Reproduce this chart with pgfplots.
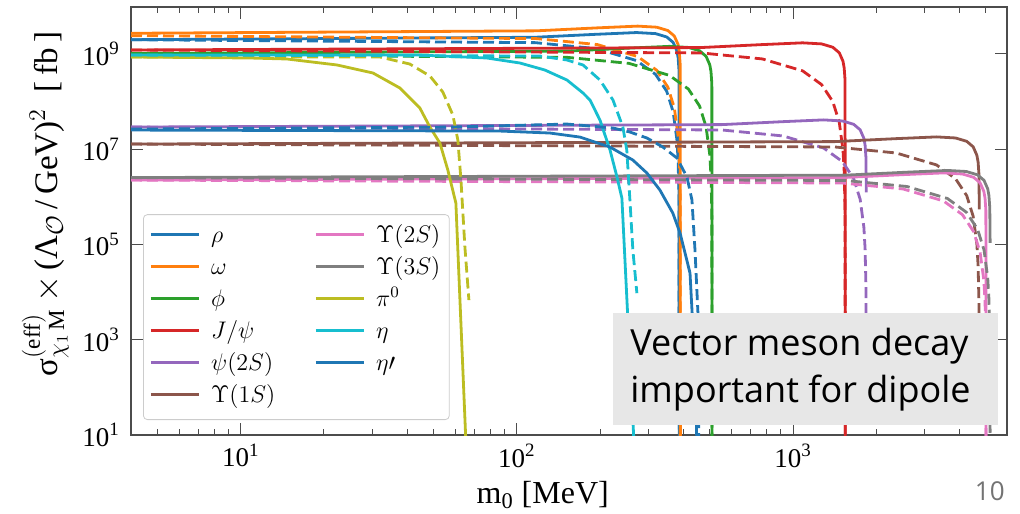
\documentclass[border=0pt]{standalone}
\usepackage{pgfplots}
\pgfplotsset{compat=1.18}
\usepackage{fontspec}
\setmainfont{Liberation Serif}
\newfontfamily\boxfont{Open Sans}
\usetikzlibrary{calc}
\definecolor{c0}{HTML}{1F77B4}
\definecolor{c1}{HTML}{FF7F0E}
\definecolor{c2}{HTML}{2CA02C}
\definecolor{c3}{HTML}{D62728}
\definecolor{c4}{HTML}{9467BD}
\definecolor{c5}{HTML}{8C564B}
\definecolor{c6}{HTML}{E377C2}
\definecolor{c7}{HTML}{7F7F7F}
\definecolor{c8}{HTML}{BCBD22}
\definecolor{c9}{HTML}{17BECF}
\definecolor{boxgray}{HTML}{E7E7E7}
\pgfplotsset{dl/.style={dash pattern=on 5.5pt off 2.5pt}}
\begin{document}
\begin{tikzpicture}
\begin{axis}[
  scale only axis, width=438pt, height=214pt,
  xmode=log, ymode=log,
  xmin=4, xmax=5960, ymin=10, ymax=9.7e9,
  xtick={10,100,1000},
  xticklabels={10\textsuperscript{1},10\textsuperscript{2},10\textsuperscript{3}},
  minor xtick={5,6,7,8,9,20,30,40,50,60,70,80,90,200,300,400,500,600,700,800,900,2000,3000,4000,5000},
  ytick={1e1,1e3,1e5,1e7,1e9},
  yticklabels={10\textsuperscript{1},10\textsuperscript{3},10\textsuperscript{5},10\textsuperscript{7},10\textsuperscript{9}},
  yminorticks=false,
  tick pos=both, tick align=inside,
  major tick length=6pt, minor tick length=3pt,
  every tick/.style={black!70, line width=0.5pt},
  axis line style={black!70, line width=0.6pt},
  ticklabel style={font=\fontsize{13.5}{16}\selectfont},
  xticklabel style={yshift=-1pt},
  yticklabel style={xshift=-2pt},
  xlabel={m\textsubscript{0} [MeV]},
  xlabel style={font=\fontsize{16}{18}\selectfont, at={(ticklabel cs:0.47)}},
  ylabel={σ$^{(\mathrm{eff})}_{\chi_1\,\mathrm{M}}$\,$\times$\,(Λ$_{\mathcal{O}}$\,/\,GeV)$^{2}$\enspace[\,fb\,]},
  ylabel style={font=\fontsize{16.5}{18}\selectfont, at={(ticklabel cs:0.54)}},
  no markers,
  every axis plot/.append style={line width=1.4pt, line join=round},
  legend image code/.code={\draw[#1] (0pt,0.3ex) -- (24pt,0.3ex);},
  legend columns=2,
  legend cell align=left,
  legend style={at={(rel axis cs:0.0137,0.035)}, anchor=south west,
    draw=black!20, fill=white, rounded corners=2pt,
    font=\fontsize{11.8}{14}\selectfont,
    /tikz/every even column/.append style={column sep=18pt},
    /tikz/every odd column/.append style={column sep=4pt},
    row sep=1.5pt, inner xsep=3pt, inner ysep=4pt,
    nodes={inner sep=1.5pt, text height=8.5pt, text depth=3pt}},
]
% rho
\addplot[c0, forget plot] coordinates {(4,1.995e9) (116.3,2.246e9) (193.8,2.592e9) (271.3,2.821e9) (317.8,2.678e9) (348.8,2.279e9) (368.2,1.747e9) (379.8,1.160e9) (383.7,8.33e8) (386.4,4.61e8) (387.6,1e-3)};
\addplot[c0, dl, forget plot] coordinates {(4,1.995e9) (116.3,1.732e9) (193.8,1.296e9) (271.3,7.27e8) (317.8,3.74e8) (348.8,1.653e8) (368.2,6.07e7) (379.8,1.574e7) (383.7,5.60e6) (386.4,9.25e5) (387.6,1e-3)};
% omega
\addplot[c1, forget plot] coordinates {(4,2.723e9) (117.4,3.064e9) (195.7,3.537e9) (273.9,3.849e9) (320.9,3.654e9) (352.2,3.109e9) (371.7,2.384e9) (383.5,1.582e9) (387.4,1.137e9) (390.1,6.30e8) (391.3,1e-3)};
\addplot[c1, dl, forget plot] coordinates {(4,2.427e9) (117.4,2.107e9) (195.7,1.576e9) (273.9,8.84e8) (320.9,4.551e8) (352.2,2.010e8) (371.7,7.382e7) (383.5,1.914e7) (387.4,6.808e6) (390.1,1.125e6) (391.3,1e-3)};
% phi
\addplot[c2, forget plot] coordinates {(4,1.023e9) (152.9,1.152e9) (254.9,1.329e9) (356.8,1.447e9) (418.0,1.373e9) (458.7,1.169e9) (484.2,8.960e8) (499.5,5.946e8) (504.6,4.274e8) (508.2,2.366e8) (509.7,1e-3)};
\addplot[c2, dl, forget plot] coordinates {(4,9.772e8) (152.9,8.483e8) (254.9,6.346e8) (356.8,3.559e8) (418.0,1.833e8) (458.7,8.095e7) (484.2,2.973e7) (499.5,7.708e6) (504.6,2.742e6) (508.2,4.529e5) (509.7,1e-3)};
% J/psi
\addplot[c3, forget plot] coordinates {(4,1.213e9) (464.5,1.366e9) (774.2,1.576e9) (1083.9,1.716e9) (1269.7,1.629e9) (1393.6,1.386e9) (1471.0,1.062e9) (1517.4,7.051e8) (1532.9,5.069e8) (1543.8,2.805e8) (1548.4,1e-3)};
\addplot[c3, dl, forget plot] coordinates {(4,1.213e9) (464.5,1.053e9) (774.2,7.879e8) (1083.9,4.420e8) (1269.7,2.276e8) (1393.6,1.005e8) (1471.0,3.691e7) (1517.4,9.573e6) (1532.9,3.404e6) (1543.8,5.623e5) (1548.4,1e-3)};
% psi(2S)
\addplot[c4, forget plot] coordinates {(4,2.924e7) (552.9,3.291e7) (921.5,3.798e7) (1290.1,4.134e7) (1511.3,3.925e7) (1658.7,3.340e7) (1750.9,2.561e7) (1806.1,1.700e7) (1824.6,1.222e7) (1837.5,6.761e6) (1842.8,1.242e6)};
\addplot[c4, dl, forget plot] coordinates {(4,2.924e7) (552.9,2.538e7) (921.5,1.899e7) (1290.1,1.065e7) (1511.3,5.484e6) (1658.7,2.422e6) (1750.9,8.897e5) (1806.1,2.307e5) (1824.6,8.204e4) (1837.5,1.355e4) (1842.8,82.7)};
% Upsilon(1S)
\addplot[c5, forget plot] coordinates {(4,1.285e7) (1419,1.447e7) (2365,1.670e7) (3311,1.817e7) (3879,1.725e7) (4257,1.468e7) (4494,1.125e7) (4635,7.469e6) (4683,5.369e6) (4716,2.971e6) (4729.5,5.458e5)};
\addplot[c5, dl, forget plot] coordinates {(4,1.285e7) (1419,1.116e7) (2365,8.346e6) (3311,4.682e6) (3879,2.411e6) (4257,1.065e6) (4494,3.910e5) (4635,1.014e5) (4683,3.606e4) (4716,5.957e3) (4729.5,36.3)};
% Upsilon(2S)
\addplot[c6, forget plot] coordinates {(4,2.254e6) (1503.5,2.538e6) (2505.8,2.928e6) (3508.1,3.187e6) (4109.5,3.025e6) (4510.4,2.575e6) (4761.0,1.974e6) (4911.4,1.310e6) (4961.5,9.418e5) (4996.6,5.212e5) (5011.6,1e-3)};
\addplot[c6, dl, forget plot] coordinates {(4,2.254e6) (1503.5,1.956e6) (2505.8,1.464e6) (3508.1,8.211e5) (4109.5,4.228e5) (4510.4,1.867e5) (4761.0,6.857e4) (4911.4,1.778e4) (4961.5,6.324e3) (4996.6,1.045e3) (5011.6,1e-3)};
% Upsilon(3S)
\addplot[c7, forget plot] coordinates {(4,2.541e6) (1553.3,2.860e6) (2588.8,3.301e6) (3624.3,3.592e6) (4245.6,3.410e6) (4659.8,2.902e6) (4918.7,2.225e6) (5074.0,1.477e6) (5125.8,1.061e6) (5162.1,5.874e5) (5177.1,1.079e5)};
\addplot[c7, dl, forget plot] coordinates {(4,2.541e6) (1553.3,2.205e6) (2588.8,1.650e6) (3624.3,9.256e5) (4245.6,4.765e5) (4659.8,2.105e5) (4918.7,7.729e4) (5074.0,2.004e4) (5125.8,7.128e3) (5162.1,1.178e3) (5177.1,7.19)};
% pi0
\addplot[c8, forget plot] coordinates {(4,8.65e8) (10.78,8.24e8) (14.7,7.85e8) (22.3,5.88e8) (30.1,3.99e8) (37.7,1.93e8) (44.5,7.35e7) (48.4,2.92e7) (52.6,1.35e7) (56.2,3.66e6) (60.1,7.41e5) (65.3,7.8)};
\addplot[c8, dl, forget plot] coordinates {(4,8.65e8) (31.9,8.65e8) (40.9,6.16e8) (48.4,3.45e8) (53.9,1.59e8) (58.6,5.23e7) (61.1,1.56e7) (62.7,2.25e6) (64.8,8.81e4) (67.0,6.8e3)};
% eta
\addplot[c9, forget plot] coordinates {(4,9.5e8) (44.5,9.5e8) (77.8,8.24e8) (102.5,6.47e8) (126.2,4.61e8) (151.8,2.84e8) (173.5,1.52e8) (183.9,1.08e8) (199.9,4.10e7) (217.4,9.6e6) (230.4,2.61e6) (240,9.4e5) (265.2,7.8)};
\addplot[c9, dl, forget plot] coordinates {(4,9.5e8) (121,9.08e8) (151.8,7.48e8) (173.5,5.88e8) (199.9,2.84e8) (222.8,1.08e8) (242,2.92e7) (250,9.6e6) (256.6,8.6e5) (263,7.6e4) (272,9.5e3)};
% eta'
\addplot[c0, forget plot] coordinates {(4,2.53e7) (86.8,2.41e7) (131.7,2.19e7) (169.2,1.80e7) (217.4,1.11e7) (263,5.93e6) (295.8,3.16e6) (329.6,1.39e6) (367,4.57e5) (390,1.73e5) (423.6,2.51e4) (441.6,265) (449,5)};
\addplot[c0, dl, forget plot] coordinates {(4,2.65e7) (57.2,2.92e7) (151.8,3.38e7) (222.8,2.79e7) (256.6,2.30e7) (295.8,1.72e7) (338,1.11e7) (380,6.53e6) (413,2.61e6) (430.5,8.6e5) (441.6,7.6e4) (452.6,3.62e3) (456,7.8)};
% legend (row-major)
\addlegendimage{c0, line width=1.4pt}\addlegendentry{$\rho$}
\addlegendimage{c6, line width=1.4pt}\addlegendentry{$\Upsilon(2S)$}
\addlegendimage{c1, line width=1.4pt}\addlegendentry{$\omega$}
\addlegendimage{c7, line width=1.4pt}\addlegendentry{$\Upsilon(3S)$}
\addlegendimage{c2, line width=1.4pt}\addlegendentry{$\phi$}
\addlegendimage{c8, line width=1.4pt}\addlegendentry{$\pi^0$}
\addlegendimage{c3, line width=1.4pt}\addlegendentry{$J/\psi$}
\addlegendimage{c9, line width=1.4pt}\addlegendentry{$\eta$}
\addlegendimage{c4, line width=1.4pt}\addlegendentry{$\psi(2S)$}
\addlegendimage{c0, line width=1.4pt}\addlegendentry{$\eta\prime$}
\addlegendimage{c5, line width=1.4pt}\addlegendentry{$\Upsilon(1S)$}
% annotation box
\fill[boxgray] (rel axis cs:0.5502,0.285) rectangle (rel axis cs:0.9897,0.0234);
\node[anchor=base west, inner sep=0, font=\boxfont\fontsize{18}{20}\selectfont] at (rel axis cs:0.5696,0.1846) {Vector meson decay};
\node[anchor=base west, inner sep=0, font=\boxfont\fontsize{18}{20}\selectfont] at (rel axis cs:0.5696,0.0748) {important for dipole};
\coordinate (SW) at (rel axis cs:0,0);
\coordinate (NE) at (rel axis cs:1,1);
\end{axis}
\node[anchor=base east, inner sep=0, text=black!55, font=\boxfont\fontsize{13}{15}\selectfont] at ($(NE |- SW)+(-1pt,-32.5pt)$) {10};
\pgfresetboundingbox
\path ($(SW)+(-65.5pt,-39pt)$) rectangle ($(NE)+(6.5pt,3.5pt)$);
\end{tikzpicture}
\end{document}
